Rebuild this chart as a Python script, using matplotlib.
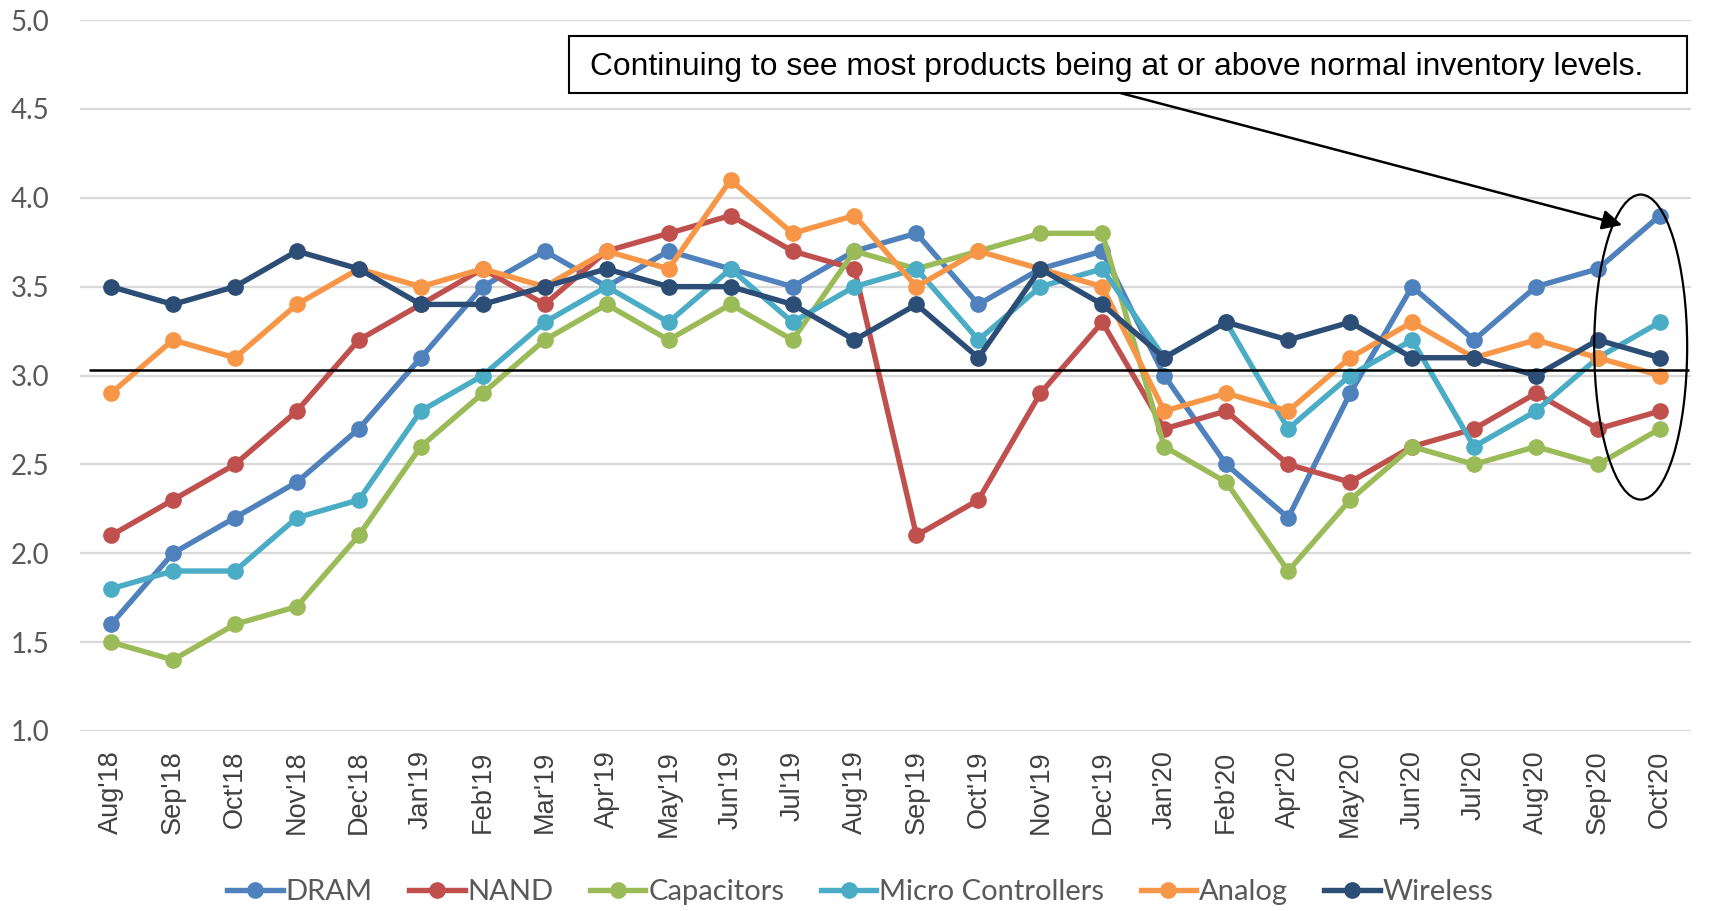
import numpy as np
import matplotlib
matplotlib.use("Agg")
import matplotlib.pyplot as plt
from matplotlib.patches import Ellipse, Rectangle

# monthly inventory index per product group
months = ["Aug'18", "Sep'18", "Oct'18", "Nov'18", "Dec'18", "Jan'19", "Feb'19", "Mar'19",
          "Apr'19", "May'19", "Jun'19", "Jul'19", "Aug'19", "Sep'19", "Oct'19", "Nov'19",
          "Dec'19", "Jan'20", "Feb'20", "Apr'20", "May'20", "Jun'20", "Jul'20", "Aug'20",
          "Sep'20", "Oct'20"]

dram = [1.6, 2.0, 2.2, 2.4, 2.7, 3.1, 3.5, 3.7, 3.5, 3.7, 3.6, 3.5, 3.7, 3.8, 3.4, 3.6,
        3.7, 3.0, 2.5, 2.2, 2.9, 3.5, 3.2, 3.5, 3.6, 3.9]
nand = [2.1, 2.3, 2.5, 2.8, 3.2, 3.4, 3.6, 3.4, 3.7, 3.8, 3.9, 3.7, 3.6, 2.1, 2.3, 2.9,
        3.3, 2.7, 2.8, 2.5, 2.4, 2.6, 2.7, 2.9, 2.7, 2.8]
capacitors = [1.5, 1.4, 1.6, 1.7, 2.1, 2.6, 2.9, 3.2, 3.4, 3.2, 3.4, 3.2, 3.7, 3.6, 3.7, 3.8,
              3.8, 2.6, 2.4, 1.9, 2.3, 2.6, 2.5, 2.6, 2.5, 2.7]
micro = [1.8, 1.9, 1.9, 2.2, 2.3, 2.8, 3.0, 3.3, 3.5, 3.3, 3.6, 3.3, 3.5, 3.6, 3.2, 3.5,
         3.6, 3.1, 3.3, 2.7, 3.0, 3.2, 2.6, 2.8, 3.1, 3.3]
analog = [2.9, 3.2, 3.1, 3.4, 3.6, 3.5, 3.6, 3.5, 3.7, 3.6, 4.1, 3.8, 3.9, 3.5, 3.7, 3.6,
          3.5, 2.8, 2.9, 2.8, 3.1, 3.3, 3.1, 3.2, 3.1, 3.0]
wireless = [3.5, 3.4, 3.5, 3.7, 3.6, 3.4, 3.4, 3.5, 3.6, 3.5, 3.5, 3.4, 3.2, 3.4, 3.1, 3.6,
            3.4, 3.1, 3.3, 3.2, 3.3, 3.1, 3.1, 3.0, 3.2, 3.1]

normal_level = 3.03

series = [("DRAM", dram, "#4F81BD"),
          ("NAND", nand, "#C0504D"),
          ("Capacitors", capacitors, "#9BBB59"),
          ("Micro Controllers", micro, "#4BACC6"),
          ("Analog", analog, "#F79646"),
          ("Wireless", wireless, "#2C4D75")]

fig = plt.figure(figsize=(17.21, 9.11), dpi=100)
ax = fig.add_axes([0.0465, 0.1976, 0.936, 0.7804])

x = np.arange(len(months))
for name, vals, col in series:
    ax.plot(x, vals, color=col, lw=3.9, marker="o", markersize=11, label=name, zorder=3)

# normal inventory reference line
ax.hlines(normal_level, -0.35, 25.47, color="black", lw=1.8, zorder=4)

ax.set_xlim(-0.5, len(months) - 0.5)
ax.set_ylim(1.0, 5.0)
ax.set_yticks(np.arange(1.0, 5.01, 0.5))
ax.set_yticklabels([f"{v:.1f}" for v in np.arange(1.0, 5.01, 0.5)],
                   fontfamily="Lato", fontsize=20, color="#595959")
ax.set_xticks(x)
ax.set_xticklabels(months, rotation=90, fontfamily="Liberation Sans",
                   fontsize=19.5, color="#404040")
ax.tick_params(axis="both", length=0)
ax.tick_params(axis="y", pad=22)
ax.tick_params(axis="x", pad=14)
ax.grid(axis="y", color="#D9D9D9", lw=1.6)
ax.set_axisbelow(True)
for s in ax.spines.values():
    s.set_visible(False)

# callout box, arrow and highlight ellipse
fig.add_artist(Rectangle((0.3306, 0.898), 0.6496, 0.0625, transform=fig.transFigure,
                         facecolor="white", edgecolor="black", lw=1.5, zorder=5))
fig.text(0.6488, 0.926, "Continuing to see most products being at or above normal inventory levels.",
         ha="center", va="center", fontfamily="Liberation Sans", fontsize=22.9,
         color="black", zorder=6)
ax.annotate("", xy=(24.39, 3.847), xycoords="data",
            xytext=(0.6508, 0.898), textcoords="figure fraction",
            arrowprops=dict(arrowstyle="-|>", color="black", lw=1.8,
                            mutation_scale=30, shrinkA=0, shrinkB=0),
            zorder=6)
ax.add_patch(Ellipse((24.69, 3.16), 1.50, 1.716, fill=False, edgecolor="black",
                     lw=1.6, zorder=5, clip_on=False))

leg = fig.legend(loc="center", bbox_to_anchor=(0.5, 0.021), ncol=6, frameon=False,
                 prop={"family": "Lato", "size": 21}, handlelength=1.9,
                 handletextpad=0.1, columnspacing=1.25, borderaxespad=0)
for t in leg.get_texts():
    t.set_color("#595959")

fig.savefig("out.png", dpi=100)
